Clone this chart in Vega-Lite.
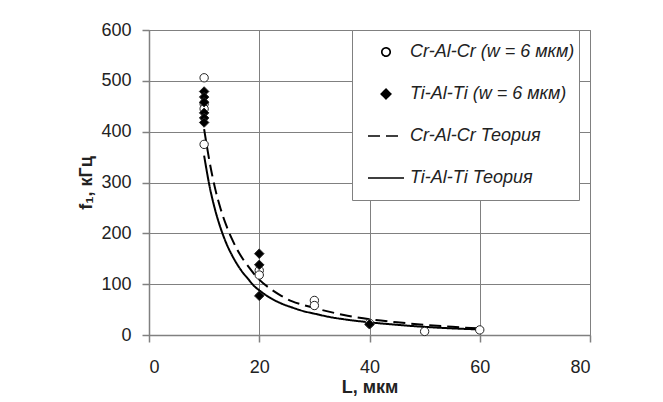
{
  "$schema": "https://vega.github.io/schema/vega-lite/v6.json",
  "width": 441,
  "height": 305,
  "autosize": {"type": "none"},
  "padding": {"left": 149, "top": 30, "right": 73, "bottom": 67},
  "background": "white",
  "config": {
    "font": "Liberation Sans",
    "view": {"stroke": "#808080", "strokeWidth": 1},
    "axis": {
      "gridColor": "#808080", "gridOpacity": 1, "gridWidth": 1,
      "domainColor": "#808080", "domainWidth": 1.5,
      "tickColor": "#808080", "tickSize": 7, "tickWidth": 1.5,
      "labelFont": "Liberation Sans", "labelFontSize": 18, "labelColor": "#222",
      "titleFont": "Liberation Sans", "titleFontSize": 18, "titleFontWeight": "bold", "titleColor": "#222"
    },
    "legend": {
      "orient": "none", "legendX": 203, "legendY": 0,
      "padding": 4, "symbolOffset": 11, "clipHeight": 36, "rowPadding": 6,
      "labelOffset": 5, "labelFont": "Liberation Sans", "labelFontSize": 18, "labelFontStyle": "italic", "labelColor": "#222",
      "labelLimit": 400,
      "strokeColor": "#808080", "fillColor": "white",
      "symbolStrokeColor": "black", "symbolStrokeWidth": 1.5
    }
  },
  "datasets": {
    "pts": [
      {"L": 10, "f": 506, "series": "Cr-Al-Cr (w = 6 мкм)"},
      {"L": 10, "f": 455, "series": "Cr-Al-Cr (w = 6 мкм)"},
      {"L": 10, "f": 445, "series": "Cr-Al-Cr (w = 6 мкм)"},
      {"L": 10, "f": 375, "series": "Cr-Al-Cr (w = 6 мкм)"},
      {"L": 20, "f": 127, "series": "Cr-Al-Cr (w = 6 мкм)"},
      {"L": 20, "f": 118, "series": "Cr-Al-Cr (w = 6 мкм)"},
      {"L": 30, "f": 68, "series": "Cr-Al-Cr (w = 6 мкм)"},
      {"L": 30, "f": 58, "series": "Cr-Al-Cr (w = 6 мкм)"},
      {"L": 40, "f": 23, "series": "Cr-Al-Cr (w = 6 мкм)"},
      {"L": 50, "f": 7, "series": "Cr-Al-Cr (w = 6 мкм)"},
      {"L": 60, "f": 10, "series": "Cr-Al-Cr (w = 6 мкм)"},
      {"L": 10, "f": 479, "series": "Ti-Al-Ti (w = 6 мкм)"},
      {"L": 10, "f": 468, "series": "Ti-Al-Ti (w = 6 мкм)"},
      {"L": 10, "f": 458, "series": "Ti-Al-Ti (w = 6 мкм)"},
      {"L": 10, "f": 437, "series": "Ti-Al-Ti (w = 6 мкм)"},
      {"L": 10, "f": 427, "series": "Ti-Al-Ti (w = 6 мкм)"},
      {"L": 10, "f": 418, "series": "Ti-Al-Ti (w = 6 мкм)"},
      {"L": 20, "f": 160, "series": "Ti-Al-Ti (w = 6 мкм)"},
      {"L": 20, "f": 138, "series": "Ti-Al-Ti (w = 6 мкм)"},
      {"L": 20, "f": 77, "series": "Ti-Al-Ti (w = 6 мкм)"},
      {"L": 40, "f": 21, "series": "Ti-Al-Ti (w = 6 мкм)"}
    ],
    "theory": [
      {"L": 10, "f": 405, "series": "Cr-Al-Cr Теория"},
      {"L": 11, "f": 340, "series": "Cr-Al-Cr Теория"},
      {"L": 12, "f": 288, "series": "Cr-Al-Cr Теория"},
      {"L": 13, "f": 248, "series": "Cr-Al-Cr Теория"},
      {"L": 14, "f": 216, "series": "Cr-Al-Cr Теория"},
      {"L": 15, "f": 190, "series": "Cr-Al-Cr Теория"},
      {"L": 16, "f": 168, "series": "Cr-Al-Cr Теория"},
      {"L": 17, "f": 150, "series": "Cr-Al-Cr Теория"},
      {"L": 18, "f": 135, "series": "Cr-Al-Cr Теория"},
      {"L": 19, "f": 121, "series": "Cr-Al-Cr Теория"},
      {"L": 20, "f": 109, "series": "Cr-Al-Cr Теория"},
      {"L": 22, "f": 91, "series": "Cr-Al-Cr Теория"},
      {"L": 24, "f": 77, "series": "Cr-Al-Cr Теория"},
      {"L": 26, "f": 66, "series": "Cr-Al-Cr Теория"},
      {"L": 28, "f": 59, "series": "Cr-Al-Cr Теория"},
      {"L": 30, "f": 53, "series": "Cr-Al-Cr Теория"},
      {"L": 33, "f": 45, "series": "Cr-Al-Cr Теория"},
      {"L": 36, "f": 38, "series": "Cr-Al-Cr Теория"},
      {"L": 40, "f": 31, "series": "Cr-Al-Cr Теория"},
      {"L": 45, "f": 25, "series": "Cr-Al-Cr Теория"},
      {"L": 50, "f": 20, "series": "Cr-Al-Cr Теория"},
      {"L": 55, "f": 16, "series": "Cr-Al-Cr Теория"},
      {"L": 60, "f": 13, "series": "Cr-Al-Cr Теория"},
      {"L": 10, "f": 353, "series": "Ti-Al-Ti Теория"},
      {"L": 11, "f": 292, "series": "Ti-Al-Ti Теория"},
      {"L": 12, "f": 246, "series": "Ti-Al-Ti Теория"},
      {"L": 13, "f": 210, "series": "Ti-Al-Ti Теория"},
      {"L": 14, "f": 181, "series": "Ti-Al-Ti Теория"},
      {"L": 15, "f": 158, "series": "Ti-Al-Ti Теория"},
      {"L": 16, "f": 139, "series": "Ti-Al-Ti Теория"},
      {"L": 17, "f": 123, "series": "Ti-Al-Ti Теория"},
      {"L": 18, "f": 110, "series": "Ti-Al-Ti Теория"},
      {"L": 19, "f": 97, "series": "Ti-Al-Ti Теория"},
      {"L": 20, "f": 88, "series": "Ti-Al-Ti Теория"},
      {"L": 22, "f": 73, "series": "Ti-Al-Ti Теория"},
      {"L": 24, "f": 62, "series": "Ti-Al-Ti Теория"},
      {"L": 26, "f": 54, "series": "Ti-Al-Ti Теория"},
      {"L": 28, "f": 47, "series": "Ti-Al-Ti Теория"},
      {"L": 30, "f": 42, "series": "Ti-Al-Ti Теория"},
      {"L": 33, "f": 35, "series": "Ti-Al-Ti Теория"},
      {"L": 36, "f": 30, "series": "Ti-Al-Ti Теория"},
      {"L": 40, "f": 25, "series": "Ti-Al-Ti Теория"},
      {"L": 45, "f": 20, "series": "Ti-Al-Ti Теория"},
      {"L": 50, "f": 16, "series": "Ti-Al-Ti Теория"},
      {"L": 55, "f": 13, "series": "Ti-Al-Ti Теория"},
      {"L": 60, "f": 11, "series": "Ti-Al-Ti Теория"}
    ]
  },
  "encoding": {
    "x": {
      "field": "L", "type": "quantitative",
      "scale": {"domain": [0, 80], "nice": false},
      "axis": {"values": [0, 20, 40, 60, 80], "labelPadding": 16, "title": "L, мкм", "titlePadding": 2}
    },
    "y": {
      "field": "f", "type": "quantitative",
      "scale": {"domain": [0, 600], "nice": false},
      "axis": {"values": [0, 100, 200, 300, 400, 500, 600], "labelPadding": 11, "title": "f₁, кГц", "titlePadding": 5}
    }
  },
  "layer": [
    {
      "data": {"name": "theory"},
      "mark": {"type": "line", "color": "black", "strokeWidth": 2, "interpolate": "monotone"},
      "encoding": {
        "strokeDash": {
          "field": "series", "type": "nominal", "title": null,
          "scale": {
            "domain": ["Cr-Al-Cr (w = 6 мкм)", "Ti-Al-Ti (w = 6 мкм)", "Cr-Al-Cr Теория", "Ti-Al-Ti Теория"],
            "range": [[1, 0], [1, 0], [12, 6], [1, 0]]
          },
          "legend": {"labelExpr": "datum.label + '\u00a0\u00a0\u00a0'", "encode": {"symbols": {"update": {"stroke": {"value": "black"}, "strokeWidth": {"value": 1.7}}}}}
        }
      }
    },
    {
      "data": {"name": "pts"},
      "mark": {"type": "point", "filled": true, "stroke": "#222", "strokeWidth": 1, "opacity": 1},
      "encoding": {
        "shape": {
          "field": "series", "type": "nominal", "title": null,
          "scale": {
            "domain": ["Cr-Al-Cr (w = 6 мкм)", "Ti-Al-Ti (w = 6 мкм)", "Cr-Al-Cr Теория", "Ti-Al-Ti Теория"],
            "range": ["circle", "diamond", "stroke", "stroke"]
          },
          "legend": {"labelExpr": "datum.label + '\u00a0\u00a0\u00a0'", "encode": {"symbols": {"update": {"stroke": {"value": "black"}, "strokeWidth": {"value": 1.7}}}}}
        },
        "fill": {
          "field": "series", "type": "nominal", "title": null,
          "scale": {
            "domain": ["Cr-Al-Cr (w = 6 мкм)", "Ti-Al-Ti (w = 6 мкм)", "Cr-Al-Cr Теория", "Ti-Al-Ti Теория"],
            "range": ["white", "black", "transparent", "transparent"]
          },
          "legend": {"labelExpr": "datum.label + '\u00a0\u00a0\u00a0'", "encode": {"symbols": {"update": {"stroke": {"value": "black"}, "strokeWidth": {"value": 1.7}}}}}
        },
        "size": {
          "field": "series", "type": "nominal", "title": null,
          "scale": {
            "type": "ordinal",
            "domain": ["Cr-Al-Cr (w = 6 мкм)", "Ti-Al-Ti (w = 6 мкм)", "Cr-Al-Cr Теория", "Ti-Al-Ti Теория"],
            "range": [70, 90, 1296, 1296]
          },
          "legend": {"labelExpr": "datum.label + '\u00a0\u00a0\u00a0'", "encode": {"symbols": {"update": {"stroke": {"value": "black"}, "strokeWidth": {"value": 1.7}}}}}
        }
      }
    }
  ]
}
